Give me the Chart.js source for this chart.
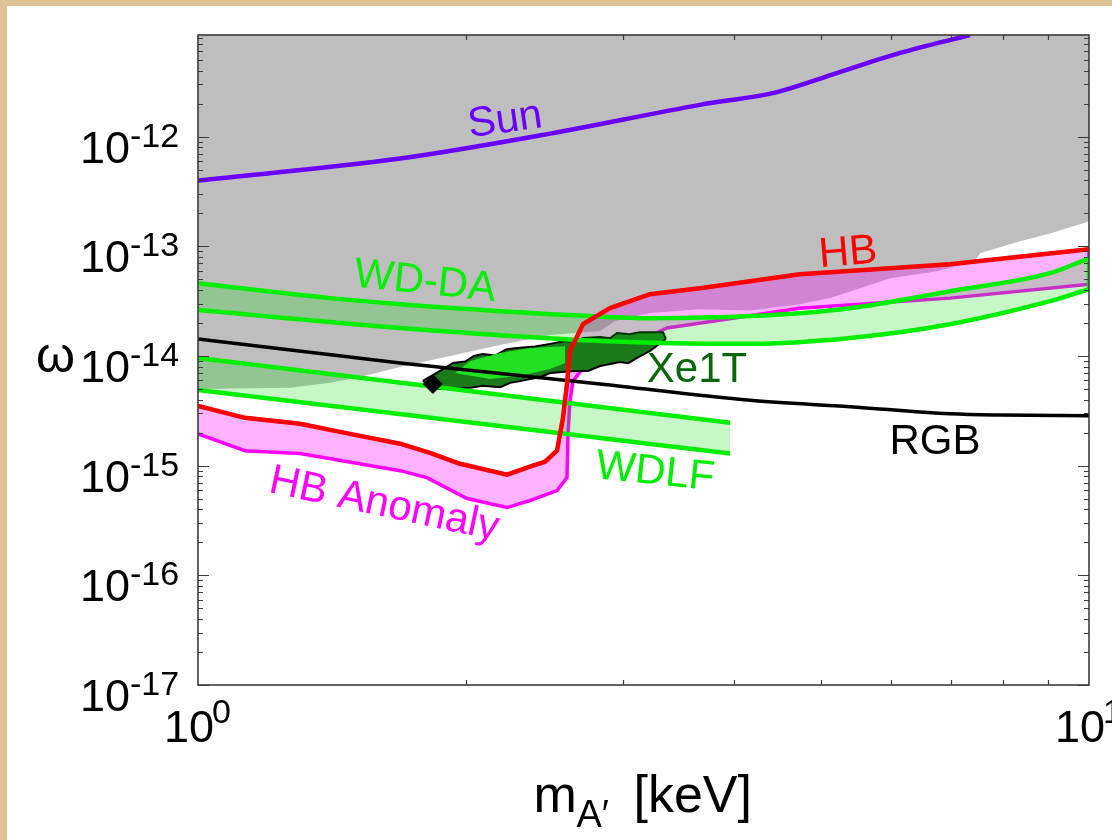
<!DOCTYPE html>
<html>
<head>
<meta charset="utf-8">
<title>Dark photon coupling limits</title>
<script src="https://cdn.jsdelivr.net/npm/chart.js@4.4.1/dist/chart.umd.min.js"></script>
<style>
  html, body { margin: 0; padding: 0; background: #dec396; }
  #sheet { position: absolute; left: 7px; top: 6px; width: 1105px; height: 834px; background: #fff; }
</style>
</head>
<body>
<div id="sheet"><canvas id="limits" width="1105" height="834"></canvas></div>
<script>
// axis decades (tick labels are 10^e)
const xDecades = [0, 1];
const yDecades = [-17, -16, -15, -14, -13, -12];

// [m_A' in keV, omega] pairs for every curve
const grayEdge = [[1.00, 5.0e-15], [1.268, 5.12e-15], [1.406, 5.69e-15], [1.520, 6.44e-15], [1.686, 7.94e-15],
  [1.918, 1.0e-14], [2.183, 1.26e-14], [2.484, 1.55e-14], [2.827, 1.69e-14], [2.938, 2.08e-14],
  [3.216, 2.46e-14], [3.659, 2.67e-14], [4.165, 2.6e-14], [4.738, 2.97e-14], [5.121, 3.37e-14],
  [5.534, 4.15e-14], [5.980, 5.12e-14], [6.751, 5.93e-14], [7.448, 7.31e-14], [7.546, 8.64e-14],
  [7.946, 9.80e-14], [8.366, 1.11e-13], [9.041, 1.31e-13], [9.52, 1.49e-13], [10, 1.687e-13]];

const sun = [[1, 3.98e-13], [1.686, 6.31e-13], [2.484, 1.065e-12], [3.659, 1.95e-12], [4.465, 2.55e-12],
  [5.161, 3.70e-12], [6.137, 5.80e-12], [7.353, 8.45e-12]];

const hb = [[1, 3.51e-15], [1.129, 2.73e-15], [1.302, 2.41e-15], [1.481, 1.95e-15], [1.686, 1.585e-15],
  [1.821, 1.31e-15], [1.968, 1.04e-15], [2.223, 8.28e-16], [2.358, 9.8e-16], [2.452, 1.087e-15],
  [2.529, 1.37e-15], [2.568, 2.73e-15], [2.595, 5.56e-15], [2.615, 1.11e-14], [2.705, 1.95e-14],
  [2.900, 2.73e-14], [3.216, 3.66e-14], [3.659, 4.15e-14], [4.738, 5.56e-14], [6.982, 6.86e-14], [10, 9.40e-14]];

const hbAnomalyLow = [[1, 1.95e-15], [1.129, 1.37e-15], [1.302, 1.29e-15], [1.686, 9.0e-16], [1.807, 7.78e-16],
  [2.004, 5.01e-16], [2.223, 4.15e-16], [2.358, 4.81e-16], [2.529, 5.93e-16], [2.595, 7.78e-16],
  [2.602, 1.95e-15], [2.615, 3.90e-15], [2.636, 5.93e-15], [2.705, 7.78e-15], [2.827, 9.6e-15],
  [2.953, 1.11e-14], [3.078, 1.29e-14], [3.360, 1.80e-14], [3.985, 2.21e-14], [4.738, 2.73e-14],
  [6.982, 3.37e-14], [10, 4.52e-14]];
const hbAnomalyEdge = [[10, 4.52e-14], [10, 9.40e-14]];

const wdDaUp = [[1, 4.61e-14], [1.406, 3.37e-14], [1.686, 2.97e-14], [2.754, 2.31e-14], [3.216, 2.21e-14],
  [4.165, 2.31e-14], [5.393, 2.73e-14], [6.982, 3.90e-14], [9.041, 5.69e-14], [10, 7.78e-14]];
const wdDaLow = [[1, 2.62e-14], [1.686, 1.80e-14], [2.827, 1.37e-14], [4.165, 1.29e-14], [5.393, 1.46e-14],
  [6.982, 1.95e-14], [9.041, 3.16e-14], [10, 4.06e-14]];
const wdDaEdge = [[10, 4.06e-14], [10, 7.78e-14]];

const wdlfUp = [[1, 9.6e-15], [3.955, 2.46e-15]];
const wdlfLow = [[1, 4.91e-15], [3.955, 1.29e-15]];

const rgb = [[1, 1.43e-14], [1.686, 8.64e-15], [2.827, 5.56e-15], [4.165, 3.95e-15], [5.393, 3.45e-15],
  [6.982, 2.97e-15], [7.946, 2.89e-15], [10, 2.85e-15]];

const xeUp = [[1.788, 5.93e-15], [1.869, 7.31e-15], [1.933, 8.64e-15], [1.994, 8.9e-15], [2.040, 1.0e-14],
  [2.088, 1.04e-14], [2.154, 1.01e-14], [2.220, 1.15e-14], [2.280, 1.18e-14], [2.389, 1.22e-14],
  [2.484, 1.29e-14], [2.582, 1.37e-14], [2.650, 1.36e-14], [2.705, 1.46e-14], [2.827, 1.49e-14],
  [2.900, 1.45e-14], [2.953, 1.62e-14], [3.050, 1.58e-14], [3.134, 1.65e-14], [3.326, 1.65e-14], [3.351, 1.43e-14]];
const xeLow = [[1.788, 5.93e-15], [1.845, 5.01e-15], [1.918, 5.01e-15], [2.020, 5.12e-15], [2.088, 5.34e-15],
  [2.183, 5.2e-15], [2.240, 5.69e-15], [2.300, 5.9e-15], [2.358, 6.18e-15], [2.420, 6.4e-15],
  [2.484, 7.0e-15], [2.650, 7.31e-15], [2.740, 7.3e-15], [2.827, 8.11e-15], [2.976, 8.8e-15],
  [3.040, 8.6e-15], [3.110, 9.6e-15], [3.216, 1.11e-14], [3.351, 1.43e-14]];
const xeCoreUp = [[1.943, 7.0e-15], [2.020, 9.0e-15], [2.183, 1.065e-14], [2.358, 1.18e-14], [2.582, 1.23e-14]];
const xeCoreLow = [[1.943, 7.0e-15], [2.127, 6.18e-15], [2.298, 6.58e-15], [2.484, 7.62e-15], [2.582, 8.64e-15]];
const xeBest = [[1.835, 5.56e-15]];

const FONT = '"Liberation Sans", Arial, Helvetica, sans-serif';
const GREEN = '#00ee00';
const MAGENTA = '#ff00ff';

// curve names placed at (m, omega), rotated in degrees
const notes = [
  { text: 'Sun', m: 2.211, w: 1.40e-12, rot: -8, color: '#6a00ff' },
  { text: 'WD-DA', m: 1.798, w: 4.71e-14, rot: 6, color: GREEN },
  { text: 'HB', m: 5.364, w: 8.64e-14, rot: -5, color: '#ff0000' },
  { text: 'Xe1T', m: 3.631, w: 7.31e-15, rot: 0, color: '#0a660a' },
  { text: 'RGB', m: 6.717, w: 1.62e-15, rot: 0, color: '#000000' },
  { text: 'WDLF', m: 3.258, w: 8.64e-16, rot: 6, color: GREEN },
  { text: 'HB Anomaly', m: 1.617, w: 4.4e-16, rot: 12, color: MAGENTA }
];

const line = (data, color, width, extra) => Object.assign({
  data: data.map(([x, y]) => ({ x, y })),
  borderColor: color,
  borderWidth: width,
  backgroundColor: 'transparent',
  pointRadius: 0,
  fill: false,
  tension: 0
}, extra);

const smooth = { cubicInterpolationMode: 'monotone' };

const datasets = [
  line(grayEdge, 'transparent', 0, { fill: 'end', backgroundColor: '#bebebe', order: 20 }),
  line(hbAnomalyLow, MAGENTA, 3.5, { order: 17 }),
  line(hb, MAGENTA, 3.5, { fill: '-1', backgroundColor: 'rgba(255,0,255,0.3)', order: 17 }),
  line(hbAnomalyEdge, MAGENTA, 3.5, { order: 17 }),
  line(xeLow, '#000', 2, { order: 16.5 }),
  line(xeUp, '#000', 2, { fill: '-1', backgroundColor: '#1b7a1b', order: 16.5 }),
  line(xeCoreLow, 'transparent', 0, { order: 16.4 }),
  line(xeCoreUp, 'transparent', 0, { fill: '-1', backgroundColor: '#22e022', order: 16.4 }),
  line(wdDaLow, GREEN, 4.5, Object.assign({ order: 16 }, smooth)),
  line(wdDaUp, GREEN, 4.5, Object.assign({ fill: '-1', backgroundColor: 'rgba(0,220,0,0.22)', order: 16 }, smooth)),
  line(wdDaEdge, GREEN, 4.5, { order: 16 }),
  line(wdlfLow, GREEN, 4.5, { order: 16 }),
  line(wdlfUp, GREEN, 4.5, { fill: '-1', backgroundColor: 'rgba(0,220,0,0.22)', order: 16 }),
  line(rgb, '#000', 3.5, Object.assign({ order: 15 }, smooth)),
  line(sun, '#6a00ff', 4.5, Object.assign({ order: 15 }, smooth)),
  line(hb, '#ff0000', 4.5, { order: 14 }),
  line(xeBest, '#000', 0, { showLine: false, pointStyle: 'rectRot', pointRadius: 10,
    pointBackgroundColor: '#000', pointBorderWidth: 0, order: 13 })
];

// box with inward ticks on all four sides
const axesBox = {
  id: 'axesBox',
  afterDatasetsDraw(chart) {
    const { ctx, chartArea: a, scales: { x, y } } = chart;
    ctx.save();
    ctx.strokeStyle = '#3c3c3c';
    ctx.lineWidth = 1.2;
    ctx.beginPath();
    for (let e = yDecades[0]; e <= yDecades[yDecades.length - 1]; e++) {
      for (let k = 1; k <= 9; k++) {
        const v = Number(k + 'e' + e);
        if (v > y.max) break;
        const py = Math.round(y.getPixelForValue(v)) + 0.5;
        const len = k === 1 ? 11 : 5;
        ctx.moveTo(a.left, py); ctx.lineTo(a.left + len, py);
        ctx.moveTo(a.right, py); ctx.lineTo(a.right - len, py);
      }
    }
    for (let k = 2; k <= 9; k++) {
      const px = Math.round(x.getPixelForValue(k)) + 0.5;
      ctx.moveTo(px, a.bottom); ctx.lineTo(px, a.bottom - 5);
      ctx.moveTo(px, a.top); ctx.lineTo(px, a.top + 5);
    }
    ctx.stroke();
    ctx.lineWidth = 1.6;
    ctx.strokeRect(a.left, a.top, a.right - a.left, a.bottom - a.top);
    ctx.restore();
  }
};

const textLayer = {
  id: 'textLayer',
  afterDraw(chart) {
    const { ctx, chartArea: a, scales: { x, y } } = chart;
    ctx.save();
    ctx.fillStyle = '#000';
    ctx.textBaseline = 'alphabetic';

    yDecades.forEach(e => {
      const py = y.getPixelForValue(Math.pow(10, e));
      ctx.font = `45px ${FONT}`;
      ctx.textAlign = 'right';
      ctx.fillText('10', a.left - 68, py + 26);
      ctx.font = `34px ${FONT}`;
      ctx.textAlign = 'left';
      ctx.fillText(String(e), a.left - 68, py + 10);
    });
    xDecades.forEach(e => {
      const px = x.getPixelForValue(Math.pow(10, e));
      ctx.font = `45px ${FONT}`;
      ctx.textAlign = 'right';
      ctx.fillText('10', px + 16, a.bottom + 57);
      ctx.font = `34px ${FONT}`;
      ctx.textAlign = 'left';
      ctx.fillText(String(e), px + 14, a.bottom + 38);
    });

    // axis titles
    ctx.textAlign = 'left';
    ctx.font = `50px ${FONT}`;
    ctx.fillText('ω', 29, (a.top + a.bottom) / 2 + 12);
    const cx = (a.left + a.right) / 2;
    ctx.font = `52px ${FONT}`;
    ctx.fillText('m', cx - 110, a.bottom + 127);
    ctx.font = `38px ${FONT}`;
    ctx.fillText('A′', cx - 67, a.bottom + 142);
    ctx.font = `52px ${FONT}`;
    ctx.fillText('[keV]', cx - 10, a.bottom + 127);

    // curve names
    ctx.textAlign = 'center';
    ctx.textBaseline = 'middle';
    ctx.font = `42px ${FONT}`;
    notes.forEach(n => {
      ctx.save();
      ctx.translate(x.getPixelForValue(n.m), y.getPixelForValue(n.w));
      ctx.rotate(n.rot * Math.PI / 180);
      ctx.fillStyle = n.color;
      ctx.fillText(n.text, 0, 0);
      ctx.restore();
    });
    ctx.restore();
  }
};

new Chart(document.getElementById('limits'), {
  type: 'line',
  data: { datasets },
  options: {
    responsive: false,
    animation: false,
    events: [],
    layout: { padding: { left: 191, top: 29, right: 23, bottom: 155 } },
    plugins: { legend: { display: false }, tooltip: { enabled: false } },
    scales: {
      x: { type: 'logarithmic', min: 1, max: 10, display: false },
      y: { type: 'logarithmic', min: 1e-17, max: 8.45e-12, display: false }
    }
  },
  plugins: [axesBox, textLayer]
});
</script>
</body>
</html>
